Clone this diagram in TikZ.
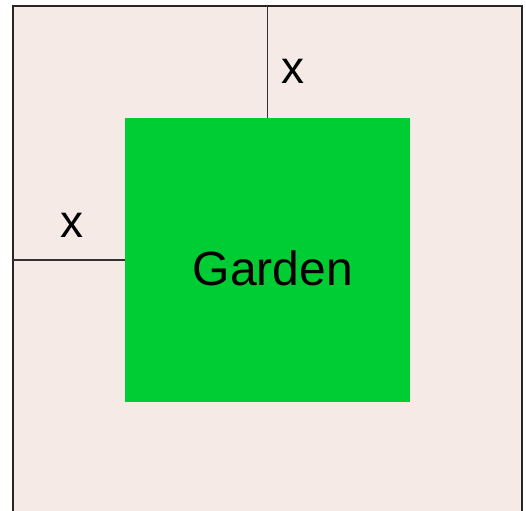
\documentclass[tikz,border=0pt]{standalone}
\usepackage{fontspec}
\setmainfont{Liberation Sans}
\definecolor{lotpink}{HTML}{F5EAE5}
\definecolor{gardengreen}{HTML}{00CC33}
\begin{document}
\begin{tikzpicture}[x=1pt,y=-1pt] %%garden plot
\useasboundingbox (0,0) rectangle (526,510);
\clip (0,0) rectangle (526,510);
\draw[fill=lotpink, draw=black!85, line width=2.2pt] (13,6) rectangle (522,530);
\node[fill=gardengreen, minimum width=285pt, minimum height=284pt, inner sep=0pt] (garden) at (267.5,260) {};
\node[font=\fontsize{48}{48}\selectfont] (gardenlabel) at (273,268) {Garden};
\coordinate (topedge) at (267.5,6);
\coordinate (leftedge) at (13,260);
\draw[line width=1.5pt, black!80] (topedge) -- (garden.north);
\draw[line width=1.5pt, black!80] (leftedge) -- (garden.west);
\node[font=\fontsize{46}{46}\selectfont] (topx) at (293,71) {x};
\node[font=\fontsize{46}{46}\selectfont] (leftx) at (72,225) {x};
\end{tikzpicture}
\end{document}
